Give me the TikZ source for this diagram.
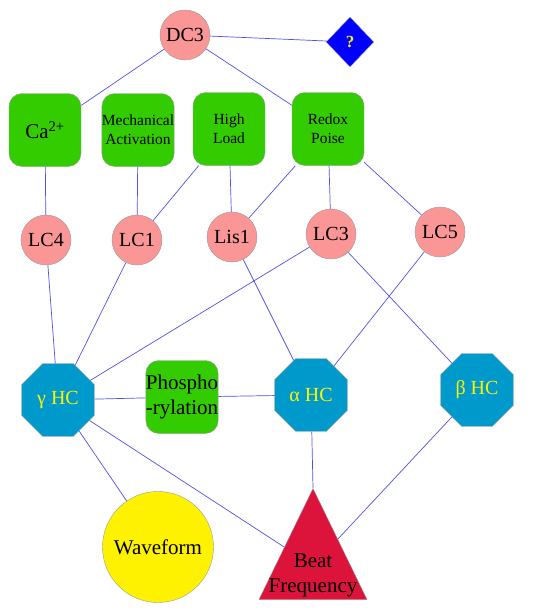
\documentclass[tikz,border=0pt]{standalone}
\usepackage{fontspec}
\setmainfont{LiberationSerif}[Extension=.ttf, UprightFont=*-Regular, BoldFont=*-Bold, ItalicFont=*-Italic, BoldItalicFont=*-BoldItalic]
\usetikzlibrary{shapes.geometric}
\definecolor{linkblue}{RGB}{80,80,230}
\definecolor{molpink}{RGB}{250,150,150}
\definecolor{factorgreen}{RGB}{51,204,0}
\definecolor{chainblue}{RGB}{0,153,204}
\definecolor{beatred}{RGB}{220,20,60}
\tikzset{
    x=1pt, y=-1pt, % pixel-like units, y grows downward
    link/.style={draw=linkblue, line width=0.7pt}, % the connectors
    molecule/.style={circle, draw=gray!80, fill=molpink, minimum size=50pt, inner sep=0pt, font=\fontsize{20}{22}\selectfont},
    factor/.style={rectangle, rounded corners=13pt, draw=gray!80, fill=factorgreen, minimum width=72pt, minimum height=73pt, inner sep=0pt, align=center, font=\fontsize{15.5}{19}\selectfont},
    chain/.style={regular polygon, regular polygon sides=8, draw=gray!80, fill=chainblue, minimum size=79pt, inner sep=0pt, text=yellow, font=\fontsize{20}{22}\selectfont},
}
\begin{document}
\begin{tikzpicture}
    \useasboundingbox (0,0) rectangle (539,613);
    % top row
    \node[molecule] (dc3) at (185,35) {DC3};
    \node[diamond, draw=gray!60, fill=blue, minimum width=48pt, minimum height=50pt, inner sep=0pt, text=yellow, font=\bfseries\fontsize{17}{19}\selectfont] (unknown) at (350,42) {?};
    % conditions
    \node[factor, font=\fontsize{21}{24}\selectfont] (ca) at (45,130) {Ca\textsuperscript{2+}};
    \node[factor] (mech) at (138,130) {Mechanical\\Activation};
    \node[factor] (load) at (229,129) {High\\Load};
    \node[factor] (redox) at (328,129) {Redox\\Poise};
    % light chains
    \node[molecule] (lc4) at (46,240) {LC4};
    \node[molecule] (lc1) at (137,240) {LC1};
    \node[molecule] (lis1) at (232,237) {Lis1};
    \node[molecule] (lc3) at (331,234) {LC3};
    \node[molecule] (lc5) at (440,232) {LC5};
    % heavy chains
    \node[chain] (gamma) at (58,400) {γ HC};
    \node[factor, font=\fontsize{21}{25}\selectfont] (phos) at (182,397) {Phospho\\-rylation};
    \node[chain] (alpha) at (311,395) {α HC};
    \node[chain] (beta) at (477,390) {β HC};
    % outputs
    \node[circle, draw=gray!80, fill=yellow, minimum size=111pt, inner sep=0pt, font=\fontsize{21}{24}\selectfont] (wave) at (158,547) {Waveform};
    \node[isosceles triangle, isosceles triangle stretches, shape border rotate=90, draw=gray!80, fill=beatred, minimum width=108pt, minimum height=111pt, inner sep=0pt, anchor=apex] (beat) at (313,488) {};
    \node[align=center, font=\fontsize{21}{25}\selectfont] (beattext) at ([yshift=-87pt]beat.apex) {Beat\\Frequency};
    \draw[link]
    (dc3) -- (ca)
    (dc3) -- (redox)
    (dc3) -- (unknown)
    (ca) -- (lc4)
    (mech) -- (lc1)
    (load) -- (lc1)
    (load) -- (lis1)
    (redox) -- (lis1)
    (redox) -- (lc3)
    (redox) -- (lc5)
    (lc4) -- (gamma)
    (lc1) -- (gamma)
    (lc3) -- (gamma)
    (lis1) -- (alpha)
    (lc5) -- (alpha)
    (lc3) -- (beta)
    (gamma) -- (phos)
    (phos) -- (alpha)
    (gamma) -- (wave)
    (gamma) -- (beat)
    (alpha) -- (beat.apex)
    (beta) -- (beat);
\end{tikzpicture}
\end{document}
